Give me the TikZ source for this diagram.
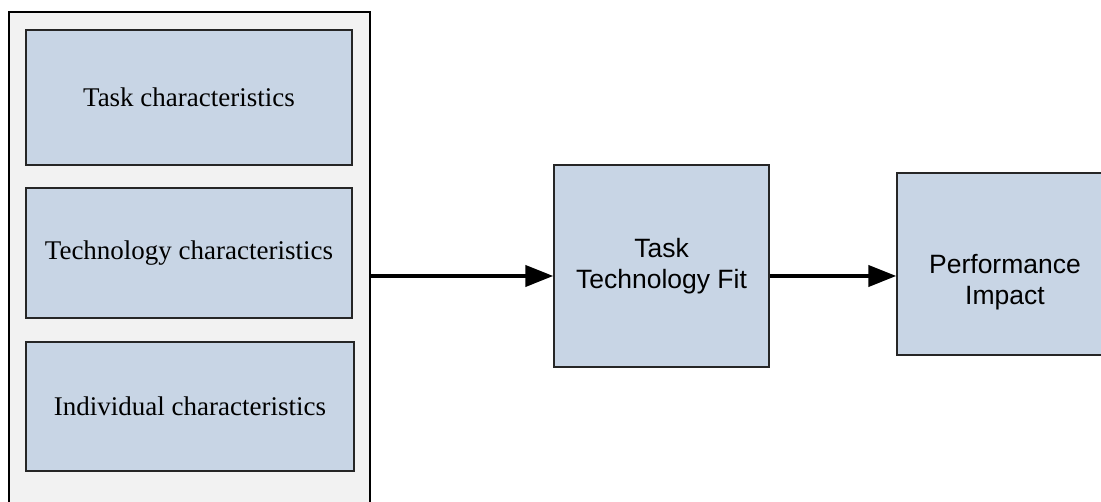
\documentclass[tikz,border=0pt]{standalone}
\usepackage{fontspec}
\setmainfont{Liberation Serif}
\newfontfamily\boxsans{Liberation Sans}
\usetikzlibrary{arrows.meta}
\definecolor{boxblue}{HTML}{C8D5E5}
\definecolor{panelgrey}{HTML}{F2F2F2}
\begin{document}
\begin{tikzpicture}[x=1pt,y=-1pt,
  panel/.style={draw=black, line width=1.4pt, fill=panelgrey, rectangle, inner sep=0pt},
  factor/.style={draw=black!85, line width=1.4pt, fill=boxblue, rectangle, inner sep=0pt,
    align=center, font=\fontsize{27}{32}\selectfont},
  outcome/.style={draw=black!85, line width=1.4pt, fill=boxblue, rectangle, inner sep=0pt,
    align=center, font=\boxsans\fontsize{26.5}{31}\selectfont},
  caption/.style={inner sep=0pt, align=center, font=\boxsans\fontsize{26.5}{31}\selectfont},
  link/.style={line width=4pt, -{Triangle[length=28pt,width=21pt]}}]
  \useasboundingbox (0,0) rectangle (1101,502);
  \clip (0,0) rectangle (1101,502);
  % grouping panel with the three characteristics
  \node[panel, minimum width=361pt, minimum height=528pt] (group) at (189.5,276) {};
  \node[factor, minimum width=326pt, minimum height=135pt] (task) at (189,97.5) {Task characteristics};
  \node[factor, minimum width=326pt, minimum height=130pt] (tech) at (189,253) {Technology characteristics};
  \node[factor, minimum width=328pt, minimum height=129pt] (indiv) at (190,406.5) {Individual characteristics};
  % fit and performance
  \node[outcome, minimum width=215pt, minimum height=202pt] (ttf) at (661.5,266) {Task\\Technology Fit};
  \node[outcome, minimum width=213pt, minimum height=182pt] (perf) at (1003.5,264) {};
  \node[caption] (perftext) at (1005,282) {Performance\\Impact};
  % connectors
  \draw[link] (group.east) -- (group.east -| ttf.west);
  \draw[link] (ttf.east |- group.east) -- (group.east -| perf.west);
\end{tikzpicture}
\end{document}
